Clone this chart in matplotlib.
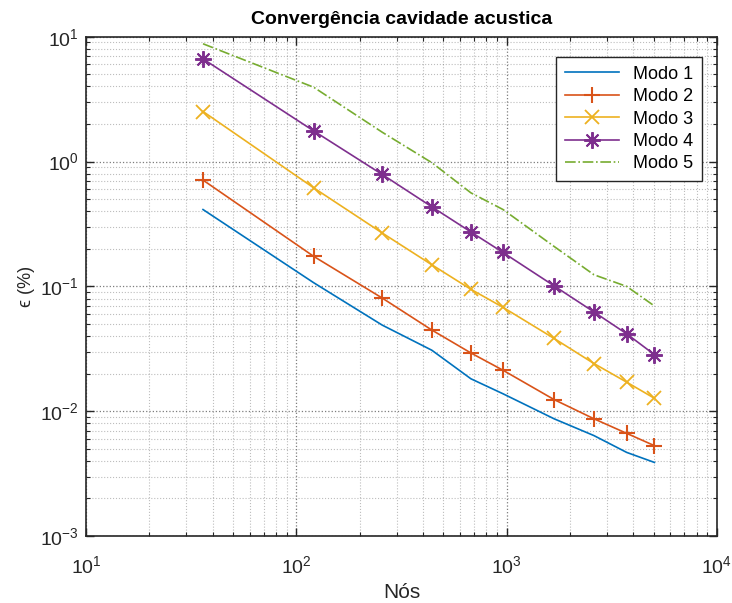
import matplotlib
matplotlib.use('Agg')
import matplotlib.pyplot as plt
from matplotlib.ticker import LogLocator, NullFormatter

plt.rcParams['font.family'] = ['Liberation Sans', 'DejaVu Sans']
plt.rcParams['mathtext.fontset'] = 'custom'
plt.rcParams['mathtext.rm'] = 'Liberation Sans'

# number of nodes (square meshes)
nos = [36, 121, 256, 441, 676, 961, 1681, 2601, 3721, 5041]

# relative error (%) per mode
modo1 = [0.413, 0.107, 0.049, 0.0308, 0.0182, 0.0138, 0.0087, 0.00638, 0.00468, 0.00389]
modo2 = [0.711, 0.174, 0.0807, 0.0447, 0.0293, 0.0213, 0.0124, 0.0087, 0.00665, 0.0053]
modo3 = [2.52, 0.616, 0.268, 0.149, 0.0948, 0.068, 0.0383, 0.0241, 0.0171, 0.0127]
modo4 = [6.65, 1.76, 0.789, 0.434, 0.273, 0.187, 0.101, 0.0624, 0.0417, 0.0284]
modo5 = [8.79, 3.94, 1.72, 0.98, 0.562, 0.413, 0.209, 0.124, 0.1, 0.0697]

labels = ['Modo 1', 'Modo 2', 'Modo 3', 'Modo 4', 'Modo 5']

fig = plt.figure(figsize=(7.32, 6.03), dpi=100)
ax = fig.add_axes([0.1175, 0.111, 0.862, 0.828])

# MATLAB-like asterisk: 8 spokes
asterisk = (8, 2, 0)

ax.loglog(nos, modo1, '-', color='#0072BD', lw=1.2, label=labels[0])
ax.loglog(nos, modo2, '-+', color='#D95319', lw=1.2, ms=12, mew=1.5, label=labels[1])
ax.loglog(nos, modo3, '-x', color='#EDB120', lw=1.2, ms=10, mew=1.3, label=labels[2])
ax.loglog(nos, modo4, '-', marker=asterisk, color='#7E2F8E', lw=1.2, ms=12, mew=1.4, label=labels[3])
ax.loglog(nos, modo5, '-.', color='#77AC30', lw=1.2, label=labels[4])

ax.set_xlim(10, 1e4)
ax.set_ylim(1e-3, 10)
ax.xaxis.set_major_locator(LogLocator(base=10, numticks=10))
ax.yaxis.set_major_locator(LogLocator(base=10, numticks=10))
ax.xaxis.set_minor_locator(LogLocator(base=10, subs=range(2, 10), numticks=20))
ax.yaxis.set_minor_locator(LogLocator(base=10, subs=range(2, 10), numticks=20))
ax.xaxis.set_minor_formatter(NullFormatter())
ax.yaxis.set_minor_formatter(NullFormatter())

ax.grid(True, which='major', linestyle=':', color='#262626', alpha=0.6, lw=0.9)
ax.grid(True, which='minor', linestyle=':', color='#262626', alpha=0.3, lw=0.8)

ax.tick_params(which='both', direction='in', top=True, right=True, colors='#262626', labelsize=14)
ax.tick_params(which='major', length=6, width=1)
ax.tick_params(which='minor', length=3, width=0.8)
ax.tick_params(axis='x', pad=14)
ax.tick_params(axis='y', pad=5)
for s in ax.spines.values():
    s.set_color('#262626')
    s.set_linewidth(1.2)

ax.set_xlabel('Nós', fontsize=15, color='#262626', labelpad=4)
ax.set_ylabel('\u03f5 (%)', fontsize=13, color='#262626', labelpad=4)
ax.set_title('Convergência cavidade acustica', fontsize=14, fontweight='bold', pad=9)

leg = ax.legend(loc='upper right', fontsize=13, fancybox=False, framealpha=1,
                edgecolor='#262626', borderpad=0.5, handlelength=3.0,
                labelspacing=0.3, borderaxespad=0, bbox_to_anchor=(0.977, 0.96))
leg.get_frame().set_linewidth(1.0)

fig.savefig('out.png', dpi=100)
